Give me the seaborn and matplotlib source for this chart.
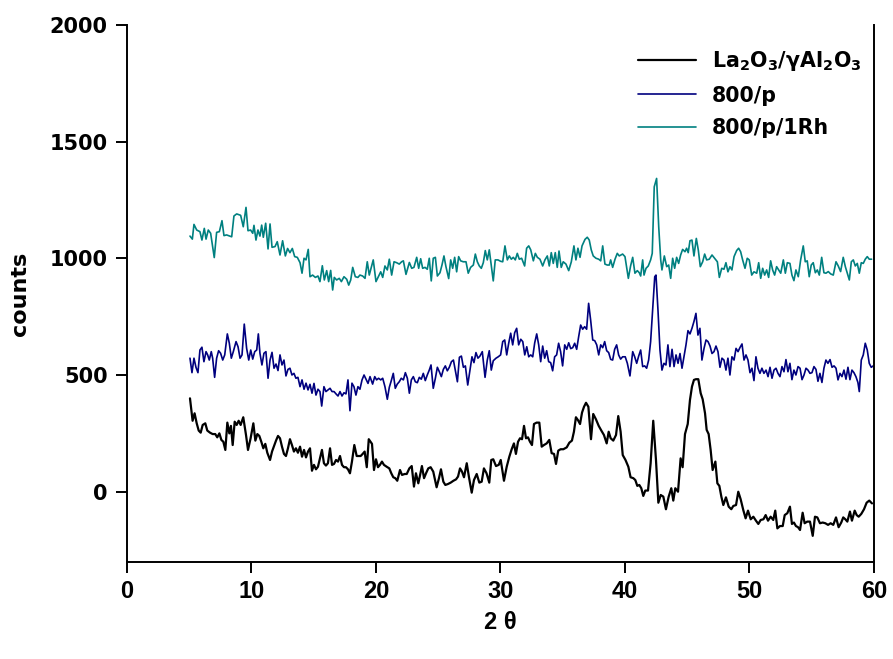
import matplotlib
matplotlib.use("Agg")
import matplotlib.pyplot as plt
import seaborn as sns
import pandas as pd

# ---------------- data ----------------
black_x = [5.06,5.27,5.43,5.6,5.76,5.92,6.08,6.29,6.45,6.67,6.88,7.09,7.25,7.42,7.58,7.74,7.9,8.06,8.22,8.35,8.49,8.65,8.81,8.97,9.13,9.34,9.56,9.72,9.93,10.15,10.31,10.47,10.63,10.79,10.95,11.11,11.27,11.49,11.65,11.81,11.97,12.13,12.29,12.45,12.61,12.77,12.93,13.09,13.25,13.41,13.57,13.73,13.9,14.06,14.22,14.38,14.54,14.7,14.86,15.02,15.18,15.34,15.5,15.66,15.82,15.98,16.14,16.31,16.47,16.63,16.79,16.95,17.11,17.27,17.43,17.59,17.75,17.91,18.07,18.26,18.45,18.61,18.77,18.93,19.09,19.26,19.42,19.68,19.84,20.0,20.16,20.32,20.48,20.64,20.86,21.07,21.23,21.39,21.55,21.71,21.93,22.09,22.31,22.47,22.68,22.87,23.05,23.21,23.4,23.53,23.69,23.86,24.02,24.2,24.39,24.6,24.87,25.06,25.22,25.41,25.57,25.78,26.0,26.22,26.43,26.59,26.75,26.91,27.07,27.29,27.47,27.69,27.87,28.09,28.3,28.49,28.67,28.88,29.1,29.26,29.42,29.64,29.86,30.02,30.28,30.5,30.71,30.9,31.08,31.24,31.41,31.57,31.73,31.89,32.05,32.21,32.37,32.53,32.69,32.9,33.12,33.31,33.49,33.71,33.92,34.11,34.3,34.46,34.64,34.83,35.05,35.32,35.53,35.74,35.9,36.06,36.22,36.39,36.55,36.71,36.87,37.06,37.27,37.45,37.67,37.89,38.1,38.31,38.53,38.69,38.85,39.06,39.28,39.46,39.65,39.82,40.04,40.27,40.45,40.67,40.83,40.99,41.15,41.31,41.47,41.63,41.85,42.06,42.27,42.49,42.68,42.87,43.08,43.29,43.51,43.72,43.88,44.04,44.26,44.47,44.63,44.82,45.04,45.22,45.38,45.54,45.7,45.89,46.08,46.24,46.43,46.56,46.72,46.88,47.04,47.26,47.42,47.58,47.74,47.9,48.11,48.33,48.54,48.7,48.92,49.1,49.29,49.5,49.69,49.88,50.1,50.31,50.52,50.71,50.9,51.12,51.3,51.49,51.7,51.91,52.07,52.24,52.45,52.67,52.83,53.04,53.25,53.41,53.57,53.73,53.9,54.06,54.27,54.43,54.64,54.86,55.08,55.26,55.45,55.66,55.88,56.09,56.31,56.52,56.73,56.95,57.16,57.37,57.53,57.7,57.86,58.07,58.23,58.45,58.61,58.77,58.98,59.2,59.41,59.62,59.84]
black_y = [401,305,337,294,263,254,287,294,263,254,248,248,234,251,223,215,180,297,251,283,201,301,287,305,287,320,244,180,230,294,220,248,240,215,187,206,168,137,173,197,220,240,230,194,163,154,187,226,201,173,187,168,194,151,180,148,173,187,91,116,97,108,144,180,123,113,123,187,116,120,137,130,154,116,106,106,97,80,130,201,154,154,154,163,173,106,226,206,94,140,106,116,130,116,108,101,80,63,59,48,94,73,77,77,101,111,23,80,37,69,111,59,80,101,106,87,20,59,97,44,30,34,40,48,54,66,101,87,63,123,63,-3,51,77,40,44,101,80,40,137,140,111,116,137,48,108,151,183,208,163,215,230,226,283,230,234,215,201,291,297,297,194,201,208,223,166,163,120,177,183,183,191,211,220,258,320,308,291,340,365,382,365,226,334,311,283,263,244,208,258,230,220,244,325,258,158,137,108,63,59,51,26,30,16,-17,6,6,123,305,137,-46,-13,-20,-74,-20,16,-37,16,1,144,106,248,291,394,451,480,483,483,423,397,337,266,248,180,94,130,37,26,-20,-56,-23,-63,-74,-60,-56,1,-31,-77,-113,-80,-117,-106,-123,-137,-120,-117,-99,-123,-106,-120,-80,-156,-146,-146,-99,-91,-63,-137,-131,-146,-151,-163,-89,-134,-127,-127,-188,-106,-109,-134,-131,-134,-141,-134,-141,-109,-151,-131,-109,-117,-127,-84,-123,-80,-99,-106,-94,-74,-46,-37,-49]

blue_x = [5.06,5.22,5.38,5.54,5.7,5.86,6.02,6.18,6.35,6.48,6.61,6.77,6.88,7.04,7.2,7.36,7.52,7.69,7.85,8.06,8.22,8.38,8.54,8.76,8.92,9.08,9.24,9.42,9.61,9.78,9.94,10.1,10.26,10.42,10.55,10.68,10.84,11.0,11.16,11.33,11.49,11.65,11.81,11.97,12.13,12.29,12.45,12.61,12.77,12.93,13.09,13.25,13.41,13.57,13.73,13.9,14.06,14.22,14.38,14.54,14.7,14.86,15.02,15.18,15.34,15.5,15.64,15.82,15.98,16.14,16.31,16.47,16.63,16.79,16.95,17.11,17.27,17.43,17.59,17.75,17.91,18.07,18.23,18.39,18.55,18.71,18.88,19.04,19.2,19.36,19.52,19.73,19.9,20.05,20.21,20.38,20.54,20.72,20.91,21.07,21.23,21.39,21.55,21.71,21.87,22.03,22.2,22.36,22.52,22.68,22.84,23.0,23.16,23.32,23.48,23.64,23.8,23.96,24.12,24.28,24.42,24.6,24.77,24.93,25.09,25.25,25.41,25.57,25.73,25.89,26.06,26.22,26.38,26.54,26.7,26.86,27.02,27.18,27.37,27.55,27.71,27.87,28.03,28.19,28.35,28.54,28.76,28.94,29.1,29.26,29.42,29.64,29.82,30.01,30.18,30.34,30.5,30.66,30.82,30.98,31.14,31.3,31.46,31.63,31.79,31.95,32.11,32.27,32.43,32.59,32.75,32.91,33.07,33.23,33.39,33.55,33.71,33.87,34.03,34.19,34.35,34.51,34.67,34.83,34.99,35.16,35.32,35.48,35.64,35.8,35.96,36.12,36.28,36.44,36.6,36.76,36.92,37.08,37.24,37.41,37.57,37.73,37.89,38.05,38.21,38.37,38.53,38.69,38.85,39.01,39.17,39.33,39.49,39.65,39.81,40.02,40.19,40.4,40.62,40.78,40.94,41.1,41.26,41.42,41.58,41.74,41.9,42.06,42.22,42.39,42.49,42.65,42.81,42.97,43.13,43.29,43.45,43.61,43.78,43.94,44.1,44.26,44.42,44.58,44.74,44.9,45.06,45.22,45.38,45.54,45.7,45.86,46.02,46.18,46.35,46.51,46.67,46.83,46.99,47.15,47.31,47.47,47.63,47.79,47.95,48.11,48.27,48.43,48.59,48.76,48.92,49.08,49.24,49.4,49.56,49.72,49.88,50.04,50.2,50.36,50.52,50.68,50.84,51.0,51.16,51.33,51.49,51.65,51.81,51.97,52.13,52.29,52.45,52.61,52.77,52.93,53.09,53.25,53.41,53.57,53.73,53.9,54.06,54.22,54.38,54.54,54.7,54.86,55.02,55.18,55.34,55.5,55.66,55.82,55.98,56.14,56.3,56.47,56.63,56.79,56.95,57.11,57.27,57.43,57.59,57.75,57.91,58.07,58.23,58.39,58.55,58.71,58.82,58.98,59.14,59.3,59.46,59.62,59.78,59.94]
blue_y = [573,511,573,534,511,608,620,558,601,587,565,601,573,491,573,605,594,565,587,677,637,573,601,644,622,573,587,719,615,565,608,569,601,608,677,594,544,594,601,487,565,598,530,548,520,587,544,565,497,525,530,501,508,487,491,451,480,440,466,437,461,423,465,415,440,430,368,451,430,437,444,430,430,420,411,430,411,425,420,480,348,466,451,415,451,440,480,501,483,465,494,462,494,480,487,480,487,451,397,448,477,508,444,462,472,487,480,511,487,423,480,494,472,468,491,483,508,477,501,522,544,444,487,534,515,494,525,540,519,534,558,565,519,472,577,582,534,540,458,522,579,554,597,573,582,601,491,565,605,522,562,573,579,587,644,651,587,637,680,630,682,701,630,654,644,587,622,579,587,579,639,677,630,558,625,573,605,558,554,519,579,587,637,601,540,630,611,639,614,618,637,611,665,715,697,708,697,808,737,651,648,630,587,630,618,644,605,597,568,565,611,630,587,569,579,579,551,497,601,579,551,582,608,537,540,530,565,644,779,922,929,779,608,522,551,544,630,537,611,537,587,551,593,530,579,630,691,677,701,730,765,672,701,565,615,651,644,625,593,601,625,601,534,573,565,522,573,501,579,565,615,601,619,634,565,587,565,511,530,477,579,530,508,530,508,522,494,534,487,522,530,508,494,537,515,567,515,551,481,522,501,537,530,481,501,530,522,508,511,537,525,474,508,469,530,565,551,567,534,540,530,480,508,494,522,483,534,481,522,511,494,469,430,565,587,637,608,551,534,540]

teal_x = [5.06,5.25,5.38,5.6,5.86,6.02,6.21,6.35,6.53,6.72,7.01,7.2,7.42,7.63,7.79,8.0,8.41,8.59,8.81,9.13,9.34,9.56,9.72,9.93,10.1,10.2,10.36,10.52,10.68,10.82,10.95,11.14,11.33,11.49,11.65,11.89,12.07,12.29,12.5,12.72,12.9,13.09,13.28,13.47,13.68,13.9,14.06,14.22,14.38,14.56,14.7,14.91,15.13,15.34,15.5,15.69,15.85,16.04,16.2,16.36,16.52,16.65,16.84,17.05,17.22,17.43,17.65,17.81,17.97,18.13,18.34,18.55,18.71,18.93,19.12,19.3,19.46,19.78,20.0,20.19,20.38,20.54,20.72,20.91,21.07,21.26,21.45,21.66,21.87,22.06,22.2,22.41,22.68,22.87,23.05,23.27,23.43,23.59,23.75,23.94,24.12,24.28,24.44,24.6,24.77,24.93,25.14,25.3,25.46,25.62,25.84,26.0,26.16,26.32,26.48,26.64,26.8,27.01,27.23,27.41,27.6,27.82,27.98,28.14,28.3,28.46,28.62,28.78,28.94,29.1,29.26,29.42,29.58,29.8,30.01,30.18,30.36,30.55,30.71,30.87,31.03,31.19,31.35,31.51,31.7,31.94,32.1,32.27,32.43,32.64,32.8,32.96,33.17,33.39,33.57,33.76,33.92,34.08,34.24,34.4,34.56,34.7,34.88,35.04,35.26,35.48,35.69,35.9,36.06,36.22,36.39,36.55,36.79,36.97,37.13,37.29,37.45,37.67,37.89,38.05,38.21,38.39,38.58,38.74,38.85,39.01,39.2,39.38,39.54,39.81,40.0,40.27,40.45,40.62,40.8,40.99,41.15,41.26,41.42,41.53,41.69,41.87,42.06,42.19,42.35,42.54,42.71,42.87,42.97,43.16,43.35,43.51,43.67,43.83,43.99,44.15,44.31,44.47,44.63,44.82,44.95,45.08,45.22,45.38,45.54,45.73,45.89,46.05,46.24,46.4,46.56,46.77,46.99,47.2,47.42,47.58,47.77,47.95,48.11,48.27,48.43,48.59,48.76,48.97,49.13,49.29,49.45,49.64,49.82,49.98,50.18,50.36,50.58,50.74,50.9,51.06,51.22,51.38,51.54,51.7,51.86,52.02,52.18,52.35,52.51,52.72,52.88,53.04,53.25,53.41,53.57,53.73,53.92,54.11,54.32,54.48,54.64,54.8,54.96,55.12,55.29,55.45,55.61,55.8,55.98,56.14,56.33,56.52,56.73,56.95,57.13,57.32,57.53,57.7,57.86,58.02,58.18,58.34,58.5,58.66,58.82,58.98,59.14,59.3,59.46,59.62,59.81]
teal_y = [1096,1083,1146,1122,1115,1079,1129,1083,1122,1108,1004,1112,1115,1162,1098,1101,1093,1182,1191,1185,1136,1219,1119,1122,1108,1142,1079,1122,1096,1143,1091,1151,1041,1148,1048,1051,1072,1015,1076,1011,1043,1025,1043,1008,1005,982,937,1001,994,1039,922,929,919,925,901,969,908,948,901,949,865,919,908,915,901,922,911,886,908,962,922,919,929,925,915,986,929,994,901,922,943,919,968,951,997,929,986,982,976,986,990,932,983,958,962,1005,958,999,958,962,954,1001,904,1001,1005,925,939,972,1011,965,914,994,958,1005,943,1008,990,986,986,937,962,972,1019,986,968,958,982,1034,994,1037,972,904,994,994,988,986,1054,994,1011,997,1005,994,1022,997,1001,968,1044,1054,1037,990,1022,1005,997,968,994,1011,968,1025,979,1025,962,1032,962,986,976,948,986,1054,994,1044,1005,1054,1082,1091,1079,1037,1011,1001,997,990,1054,976,972,972,994,962,997,1022,1011,1019,1008,915,968,1005,937,948,939,925,994,929,958,968,994,1022,1307,1343,1136,994,951,1011,965,972,915,1001,958,1005,979,1015,1039,1029,1044,1025,1076,1079,1011,1086,1036,965,986,1019,994,997,1015,1001,986,919,958,954,982,943,965,951,1008,1034,1044,1029,994,958,1001,994,929,943,937,982,915,958,929,951,919,990,951,929,965,951,937,994,937,982,979,929,905,951,922,994,1054,986,990,922,972,982,939,951,929,1005,939,937,944,934,929,986,968,944,1005,965,937,908,986,994,968,979,937,982,979,997,1008,997,997]

series_names = ["La$_2$O$_3$/\u03b3Al$_2$O$_3$", "800/p", "800/p/1Rh"]
series_colors = ["#000000", "#00007f", "#008080"]
x_ticks = [0, 10, 20, 30, 40, 50, 60]
y_ticks = [0, 500, 1000, 1500, 2000]

# ---------------- style ----------------
sns.set_style("ticks")
plt.rcParams["font.family"] = ["DejaVu Sans"]
plt.rcParams["font.weight"] = "bold"
plt.rcParams["mathtext.fontset"] = "dejavusans"
plt.rcParams["mathtext.default"] = "bf"
for key in ["text.color", "axes.labelcolor", "xtick.color", "ytick.color", "axes.edgecolor"]:
    plt.rcParams[key] = "black"

fig = plt.figure(figsize=(8.93, 6.59), dpi=100)
ax = fig.add_axes([0.1422, 0.1472, 0.9787 - 0.1422, 0.962 - 0.1472])

frames = []
for name, xs, ys in zip(series_names, [black_x, blue_x, teal_x], [black_y, blue_y, teal_y]):
    frames.append(pd.DataFrame({"two_theta": xs, "counts": ys, "series": name}))
df = pd.concat(frames, ignore_index=True)

widths = [1.6, 1.2, 1.2]
for name, col, lw in zip(series_names, series_colors, widths):
    sub = df[df["series"] == name]
    sns.lineplot(data=sub, x="two_theta", y="counts", color=col, linewidth=lw,
                 ax=ax, label=name, estimator=None, sort=False)

ax.set_xlim(0, 60)
ax.set_ylim(-300, 2000)
ax.set_xticks(x_ticks)
ax.set_yticks(y_ticks)
ax.tick_params(direction="out", length=8, width=1.4)
ax.tick_params(axis="y", labelsize=15, pad=6)
ax.tick_params(axis="x", labelsize=17, pad=5)
narrow = ["Liberation Sans Narrow", "Liberation Sans", "DejaVu Sans"]
for lab in ax.get_yticklabels():
    lab.set_fontweight("bold")
for lab in ax.get_xticklabels():
    lab.set_fontweight("bold")
    lab.set_family(narrow)

for side in ["left", "bottom", "right"]:
    ax.spines[side].set_visible(True)
    ax.spines[side].set_linewidth(1.4)
ax.spines["top"].set_visible(False)

ax.set_xlabel("2 \u03b8", fontsize=17, fontweight="bold", labelpad=6, family=narrow)
ax.set_ylabel("counts", fontsize=16, fontweight="bold", labelpad=14)

leg = ax.legend(loc="upper right", bbox_to_anchor=(1.008, 0.99), frameon=False,
                fontsize=14.8, handlelength=2.85, handletextpad=0.75, labelspacing=0.62)
for t in leg.get_texts():
    t.set_fontweight("bold")

fig.savefig("out.png", dpi=100)
